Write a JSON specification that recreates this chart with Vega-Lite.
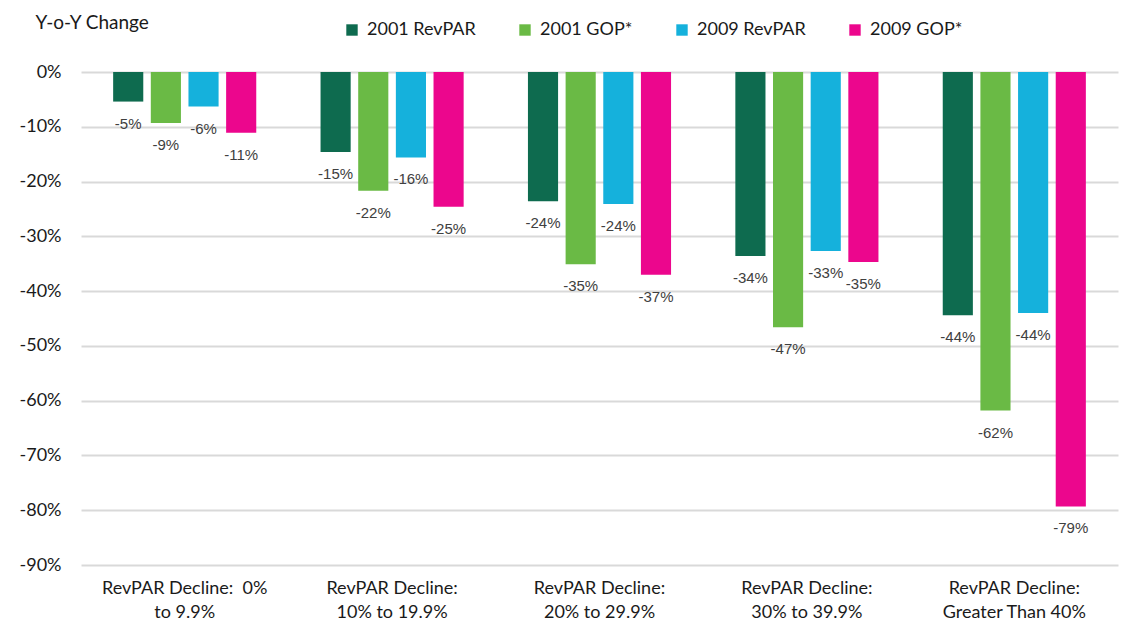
{
  "$schema": "https://vega.github.io/schema/vega-lite/v6.json",
  "width": 1037,
  "height": 493,
  "autosize": {"type": "none"},
  "padding": {"left": 81, "top": 72, "right": 3, "bottom": 61},
  "background": "white",
  "config": {
    "view": {"stroke": null},
    "font": "Lato"
  },
  "data": {
    "values": [
      {"group": "RevPAR Decline:  0%|to 9.9%", "series": "2001 RevPAR", "value": -0.054},
      {"group": "RevPAR Decline:  0%|to 9.9%", "series": "2001 GOP*", "value": -0.093},
      {"group": "RevPAR Decline:  0%|to 9.9%", "series": "2009 RevPAR", "value": -0.063},
      {"group": "RevPAR Decline:  0%|to 9.9%", "series": "2009 GOP*", "value": -0.111},
      {"group": "RevPAR Decline:|10% to 19.9%", "series": "2001 RevPAR", "value": -0.146},
      {"group": "RevPAR Decline:|10% to 19.9%", "series": "2001 GOP*", "value": -0.217},
      {"group": "RevPAR Decline:|10% to 19.9%", "series": "2009 RevPAR", "value": -0.156},
      {"group": "RevPAR Decline:|10% to 19.9%", "series": "2009 GOP*", "value": -0.246},
      {"group": "RevPAR Decline:|20% to 29.9%", "series": "2001 RevPAR", "value": -0.236},
      {"group": "RevPAR Decline:|20% to 29.9%", "series": "2001 GOP*", "value": -0.351},
      {"group": "RevPAR Decline:|20% to 29.9%", "series": "2009 RevPAR", "value": -0.241},
      {"group": "RevPAR Decline:|20% to 29.9%", "series": "2009 GOP*", "value": -0.37},
      {"group": "RevPAR Decline:|30% to 39.9%", "series": "2001 RevPAR", "value": -0.336},
      {"group": "RevPAR Decline:|30% to 39.9%", "series": "2001 GOP*", "value": -0.466},
      {"group": "RevPAR Decline:|30% to 39.9%", "series": "2009 RevPAR", "value": -0.327},
      {"group": "RevPAR Decline:|30% to 39.9%", "series": "2009 GOP*", "value": -0.347},
      {"group": "RevPAR Decline:|Greater Than 40%", "series": "2001 RevPAR", "value": -0.444},
      {"group": "RevPAR Decline:|Greater Than 40%", "series": "2001 GOP*", "value": -0.618},
      {"group": "RevPAR Decline:|Greater Than 40%", "series": "2009 RevPAR", "value": -0.44},
      {"group": "RevPAR Decline:|Greater Than 40%", "series": "2009 GOP*", "value": -0.793}
    ]
  },
  "transform": [
    {"calculate": "'-' + format(-datum.value, '.0%')", "as": "label"}
  ],
  "encoding": {
    "x": {
      "field": "group",
      "type": "nominal",
      "sort": null,
      "scale": {"paddingInner": 0.31, "paddingOuter": 0.155},
      "axis": {
        "title": null,
        "labelAngle": 0,
        "labelExpr": "split(replace(datum.label, ':  ', ':\u00a0\u00a0'), '|')",
        "labelFontSize": 18,
        "labelColor": "#1a1a1a",
        "labelLineHeight": 24,
        "labelPadding": 14,
        "domain": false,
        "ticks": false,
        "grid": false
      }
    },
    "xOffset": {
      "field": "series",
      "type": "nominal",
      "sort": ["2001 RevPAR", "2001 GOP*", "2009 RevPAR", "2009 GOP*"],
      "scale": {"paddingInner": 0.2}
    },
    "y": {
      "field": "value",
      "type": "quantitative",
      "scale": {"domain": [-0.9, 0], "nice": false},
      "axis": {
        "values": [0, -0.1, -0.2, -0.3, -0.4, -0.5, -0.6, -0.7, -0.8, -0.9],
        "format": ".0%",
        "labelExpr": "replace(datum.label, '−', '-')",
        "labelFontSize": 18,
        "labelColor": "#1a1a1a",
        "labelPadding": 20,
        "domain": false,
        "ticks": false,
        "gridColor": "#d9d9d9",
        "gridWidth": 2,
        "title": "Y-o-Y Change",
        "titleAngle": 0,
        "titleAlign": "left",
        "titleBaseline": "middle",
        "titleFontSize": 19,
        "titleFontWeight": "normal",
        "titleColor": "#1a1a1a",
        "titleX": -46,
        "titleY": -50
      }
    }
  },
  "layer": [
    {
      "mark": {"type": "bar"},
      "encoding": {
        "color": {
          "field": "series",
          "type": "nominal",
          "sort": ["2001 RevPAR", "2001 GOP*", "2009 RevPAR", "2009 GOP*"],
          "scale": {
            "domain": ["2001 RevPAR", "2001 GOP*", "2009 RevPAR", "2009 GOP*"],
            "range": ["#0e6b4f", "#6aba45", "#15b1dc", "#ec068d"]
          },
          "legend": {
            "title": null,
            "orient": "none",
            "direction": "horizontal",
            "legendX": 262,
            "legendY": -51,
            "symbolType": "square",
            "symbolSize": 130,
            "symbolStrokeWidth": 0,
            "symbolOpacity": 1,
            "labelFontSize": 18,
            "labelColor": "#1a1a1a",
            "labelOffset": 6,
            "columnPadding": 40
          }
        }
      }
    },
    {
      "mark": {"type": "text", "baseline": "middle", "dy": 22, "fontSize": 15, "color": "#404040", "font": "Liberation Sans"},
      "encoding": {
        "text": {"field": "label"}
      }
    }
  ]
}
